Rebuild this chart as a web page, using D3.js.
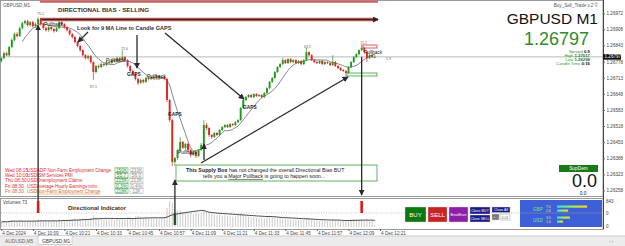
<!DOCTYPE html>
<html>
<head>
<meta charset="utf-8">
<script src="https://cdn.jsdelivr.net/npm/d3@7"></script>
<style>
  body { margin: 0; background: #fff; }
  svg { display: block; font-family: "Liberation Sans", Arial, sans-serif; }
</style>
</head>
<body>
<div id="chart"></div>
<script>
// ---- data ----
// one M1 candle per minute from 09:57, rows are [open, high, low, close]
const firstBar = "09:57";
const candles = [
  [1.26780,1.26796,1.26774,1.26792],[1.26792,1.26818,1.26788,1.26812],[1.26812,1.26818,1.26800,1.26804],
  [1.26804,1.26841,1.26798,1.26837],[1.26837,1.26871,1.26833,1.26865],[1.26865,1.26895,1.26859,1.26889],
  [1.26889,1.26897,1.26875,1.26881],[1.26881,1.26919,1.26877,1.26913],[1.26913,1.26939,1.26907,1.26933],
  [1.26933,1.26947,1.26927,1.26941],[1.26941,1.26947,1.26919,1.26925],[1.26925,1.26941,1.26919,1.26937],
  [1.26937,1.26943,1.26915,1.26921],[1.26921,1.26935,1.26915,1.26929],[1.26929,1.26957,1.26925,1.26949],
  [1.26949,1.26953,1.26923,1.26929],[1.26929,1.26935,1.26907,1.26913],[1.26913,1.26919,1.26899,1.26905],
  [1.26905,1.26923,1.26899,1.26917],[1.26917,1.26921,1.26903,1.26909],[1.26909,1.26913,1.26895,1.26901],
  [1.26901,1.26919,1.26897,1.26913],[1.26913,1.26945,1.26909,1.26937],[1.26937,1.26941,1.26923,1.26929],
  [1.26929,1.26933,1.26911,1.26917],[1.26917,1.26921,1.26899,1.26905],[1.26905,1.26909,1.26883,1.26889],
  [1.26889,1.26893,1.26871,1.26877],[1.26877,1.26881,1.26851,1.26857],[1.26857,1.26861,1.26835,1.26841],
  [1.26841,1.26845,1.26818,1.26824],[1.26824,1.26828,1.26798,1.26804],[1.26804,1.26808,1.26786,1.26792],
  [1.26792,1.26806,1.26786,1.26800],[1.26800,1.26804,1.26770,1.26776],[1.26776,1.26780,1.26704,1.26736],
  [1.26736,1.26764,1.26730,1.26760],[1.26760,1.26766,1.26750,1.26756],[1.26756,1.26774,1.26752,1.26768],
  [1.26768,1.26772,1.26758,1.26764],[1.26764,1.26782,1.26760,1.26776],[1.26776,1.26780,1.26766,1.26772],
  [1.26772,1.26790,1.26768,1.26784],[1.26784,1.26788,1.26774,1.26780],[1.26780,1.26798,1.26776,1.26792],
  [1.26792,1.26796,1.26778,1.26784],[1.26784,1.26824,1.26780,1.26796],[1.26796,1.26800,1.26778,1.26784],
  [1.26784,1.26788,1.26754,1.26760],[1.26760,1.26764,1.26734,1.26740],[1.26740,1.26746,1.26722,1.26728],
  [1.26728,1.26732,1.26702,1.26708],[1.26708,1.26712,1.26683,1.26692],[1.26692,1.26710,1.26688,1.26704],
  [1.26704,1.26708,1.26690,1.26696],[1.26696,1.26718,1.26692,1.26712],[1.26712,1.26716,1.26702,1.26708],
  [1.26708,1.26722,1.26704,1.26716],[1.26716,1.26720,1.26706,1.26712],[1.26712,1.26726,1.26708,1.26720],
  [1.26720,1.26724,1.26706,1.26712],[1.26712,1.26722,1.26708,1.26716],[1.26716,1.26720,1.26702,1.26708],
  [1.26708,1.26712,1.26615,1.26623],[1.26623,1.26627,1.26534,1.26542],[1.26542,1.26546,1.26357,1.26373],
  [1.26373,1.26393,1.26357,1.26389],[1.26389,1.26426,1.26381,1.26421],[1.26421,1.26474,1.26413,1.26454],
  [1.26454,1.26458,1.26426,1.26430],[1.26430,1.26450,1.26421,1.26446],[1.26446,1.26450,1.26413,1.26421],
  [1.26421,1.26426,1.26393,1.26401],[1.26401,1.26417,1.26397,1.26413],[1.26413,1.26417,1.26389,1.26397],
  [1.26397,1.26426,1.26393,1.26421],[1.26421,1.26450,1.26417,1.26442],[1.26442,1.26542,1.26438,1.26522],
  [1.26522,1.26530,1.26502,1.26510],[1.26510,1.26514,1.26474,1.26482],[1.26482,1.26486,1.26466,1.26474],
  [1.26474,1.26494,1.26470,1.26490],[1.26490,1.26494,1.26478,1.26482],[1.26482,1.26506,1.26478,1.26502],
  [1.26502,1.26518,1.26498,1.26514],[1.26514,1.26526,1.26510,1.26522],[1.26522,1.26526,1.26510,1.26514],
  [1.26514,1.26530,1.26510,1.26526],[1.26526,1.26530,1.26518,1.26522],[1.26522,1.26538,1.26518,1.26534],
  [1.26534,1.26546,1.26530,1.26542],[1.26542,1.26595,1.26538,1.26591],[1.26591,1.26627,1.26587,1.26623],
  [1.26623,1.26639,1.26619,1.26635],[1.26635,1.26647,1.26631,1.26643],[1.26643,1.26647,1.26631,1.26635],
  [1.26635,1.26651,1.26631,1.26647],[1.26647,1.26651,1.26635,1.26639],[1.26639,1.26647,1.26635,1.26643],
  [1.26643,1.26647,1.26631,1.26635],[1.26635,1.26655,1.26631,1.26651],[1.26651,1.26675,1.26647,1.26671],
  [1.26671,1.26700,1.26667,1.26696],[1.26696,1.26716,1.26692,1.26712],[1.26712,1.26740,1.26708,1.26736],
  [1.26736,1.26760,1.26732,1.26756],[1.26756,1.26772,1.26752,1.26768],[1.26768,1.26792,1.26764,1.26784],
  [1.26784,1.26788,1.26768,1.26772],[1.26772,1.26792,1.26768,1.26788],[1.26788,1.26792,1.26772,1.26776],
  [1.26776,1.26788,1.26772,1.26784],[1.26784,1.26788,1.26768,1.26772],[1.26772,1.26784,1.26768,1.26780],
  [1.26780,1.26784,1.26764,1.26768],[1.26768,1.26788,1.26764,1.26784],[1.26784,1.26833,1.26780,1.26816],
  [1.26816,1.26820,1.26800,1.26804],[1.26804,1.26808,1.26780,1.26784],[1.26784,1.26788,1.26772,1.26776],
  [1.26776,1.26780,1.26768,1.26772],[1.26772,1.26784,1.26768,1.26780],[1.26780,1.26784,1.26764,1.26768],
  [1.26768,1.26780,1.26764,1.26776],[1.26776,1.26780,1.26768,1.26772],[1.26772,1.26776,1.26760,1.26764],
  [1.26764,1.26804,1.26760,1.26776],[1.26776,1.26780,1.26756,1.26760],[1.26760,1.26764,1.26748,1.26752],
  [1.26752,1.26756,1.26740,1.26744],[1.26744,1.26748,1.26736,1.26740],[1.26740,1.26744,1.26720,1.26732],
  [1.26732,1.26760,1.26728,1.26756],[1.26756,1.26780,1.26752,1.26776],[1.26776,1.26800,1.26772,1.26796],
  [1.26796,1.26812,1.26792,1.26808],[1.26808,1.26828,1.26804,1.26824],[1.26824,1.26849,1.26820,1.26833],
  [1.26833,1.26837,1.26812,1.26816],[1.26816,1.26820,1.26776,1.26792],[1.26792,1.26808,1.26788,1.26804],
  [1.26804,1.26808,1.26792,1.26796],[1.26796,1.26804,1.26792,1.26797]
];

const volumes = [
  160,190,150,210,230,200,170,220,190,160,200,180,
  210,170,240,230,200,180,220,190,210,200,250,220,
  230,210,240,260,280,250,270,290,260,240,300,380,
  320,260,280,250,270,240,260,230,270,250,300,260,
  310,330,300,340,360,310,280,300,270,290,260,280,270,300,320,
  620,843,800,560,
  520,540,480,460,440,470,420,450,430,460,560,480,440,420,
  400,380,410,360,390,350,370,340,360,380,450,420,360,330,310,320,300,290,310,280,
  320,340,330,310,300,290,280,260,250,240,230,250,220,230,240,300,260,240,220,210,
  200,220,210,200,190,230,210,200,190,200,210,240,250,260,240,230,250,220,230,200,190,73
];

// directional indicator: +1 = sell signal (red), -1 = buy signal (green)
const signalBars = [14, 66, 137];
const signalDirs = [1, -1, 1];

const priceTicks = [1.26972, 1.26908, 1.26843, 1.26778, 1.26713, 1.26648,
                    1.26583, 1.26518, 1.26453, 1.26388, 1.26323, 1.26258];
const timeTicks = ["09:57", "10:09", "10:21", "10:33", "10:45", "10:57", "11:09",
                   "11:21", "11:33", "11:45", "11:57", "12:09", "12:21"];
const bidPrice = 1.26797;
const volMax = 843;

const newsTimes  = ["Wed 08:15", "Wed 10:00", "Thu 08:30", "Fri 08:30", "Fri 08:30"];
const newsEvents = ["ADP Non-Farm Employment Change", "ISM Services PMI", "Unemployment Claims",
                    "Average Hourly Earnings m/m", "Non-Farm Employment Change"];
const newsForecast = ["150K", "55.7", "215K", "0.3%", "218K"];
const newsPrevious = ["233K", "56.0", "213K", "0.4%", "12K"];

const infoLabels = ["Spread", "High", "Low", "Candle Time"];
const infoValues = ["0.9", "1.27017", "1.26298", "0:16"];

// ---- layout ----
const W = 625, H = 246;
const plotRight = 603, mainBottom = 196, subTop = 198, subBottom = 229;
const upColor = "#1f9a1f", downColor = "#e02525";

const svg = d3.select("#chart").append("svg").attr("width", W).attr("height", H);

const defs = svg.append("defs");
defs.append("marker").attr("id", "arr")
    .attr("viewBox", "0 0 8 8").attr("refX", 7).attr("refY", 4)
    .attr("markerWidth", 6).attr("markerHeight", 6).attr("markerUnits", "userSpaceOnUse")
    .attr("orient", "auto")
  .append("path").attr("d", "M0,0L8,4L0,8z").attr("fill", "#2a2a2a");
const grad = defs.append("linearGradient").attr("id", "lvl");
grad.append("stop").attr("offset", "0%").attr("stop-color", "#30e0e0");
grad.append("stop").attr("offset", "60%").attr("stop-color", "#b0f040");
grad.append("stop").attr("offset", "100%").attr("stop-color", "#ffd020");

// scales
const toMin = s => { const [h, m] = s.split(":").map(Number); return h * 60 + m; };
const x = d3.scaleLinear().domain([0, candles.length - 1]).range([1.3, 374.8]);
const y = d3.scaleLinear().domain([priceTicks[priceTicks.length - 1], priceTicks[0]]).range([190.5, 13.5]);
const vy = d3.scaleLinear().domain([0, volMax]).range([227, 201]);
const dy = d3.scaleLinear().domain([-1, 1]).range([225, 201]);

// frames
svg.append("rect").attr("x", 0.5).attr("y", 0.5).attr("width", plotRight - 0.5).attr("height", mainBottom)
   .attr("fill", "#fff").attr("stroke", "#9a9a9a");
svg.append("rect").attr("x", 0.5).attr("y", subTop + 0.5).attr("width", plotRight - 0.5).attr("height", subBottom - subTop)
   .attr("fill", "#fff").attr("stroke", "#9a9a9a");
svg.append("text").attr("x", 3).attr("y", 7).attr("font-size", 4.6).attr("fill", "#555").text("GBPUSD,M1");

// bid line
svg.append("line").attr("x1", 1).attr("x2", plotRight).attr("y1", y(bidPrice)).attr("y2", y(bidPrice))
   .attr("stroke", "#a8a8a8").attr("stroke-width", 0.8);

// supply zone edges at the top
svg.append("line").attr("x1", 40).attr("x2", 378).attr("y1", 1.8).attr("y2", 1.8)
   .attr("stroke", "#d85a5a").attr("stroke-width", 2);
svg.append("line").attr("x1", 40).attr("x2", 376).attr("y1", 19.5).attr("y2", 19.5)
   .attr("stroke", "#e6a4a4").attr("stroke-width", 4);
svg.append("line").attr("x1", 40).attr("x2", 378).attr("y1", 19.5).attr("y2", 19.5)
   .attr("stroke", "#5c1414").attr("stroke-width", 2).attr("marker-end", "url(#arr)");

// 9 period moving average
const closes = candles.map(d => d[3]);
const ma = closes.map((c, i) => i < 8 ? null : d3.mean(closes.slice(i - 8, i + 1)));
svg.append("path")
   .datum(ma.map((v, i) => [i, v]).filter(d => d[1] !== null))
   .attr("fill", "none").attr("stroke", "#6a6a6a").attr("stroke-width", 0.8)
   .attr("d", d3.line().x(d => x(d[0])).y(d => y(d[1])));

// candles
const cg = svg.append("g");
cg.selectAll("line").data(candles).join("line")
  .attr("x1", (d, i) => x(i)).attr("x2", (d, i) => x(i))
  .attr("y1", d => y(d[1])).attr("y2", d => y(d[2]))
  .attr("stroke", d => d[3] >= d[0] ? upColor : downColor).attr("stroke-width", 0.7);
cg.selectAll("rect").data(candles).join("rect")
  .attr("x", (d, i) => x(i) - 0.95).attr("width", 1.9)
  .attr("y", d => y(Math.max(d[0], d[3])))
  .attr("height", d => Math.max(0.8, Math.abs(y(d[0]) - y(d[3]))))
  .attr("fill", d => d[3] >= d[0] ? upColor : downColor);

// annotations on the chart
const note = (tx, ty, str, size, weight, fill) =>
  svg.append("text").attr("x", tx).attr("y", ty).attr("font-size", size)
     .attr("font-weight", weight || "normal").attr("fill", fill || "#222").text(str);
note(58, 12, "DIRECTIONAL BIAS - SELLING", 6.2, "bold", "#333");
note(77, 30, "Look for 9 MA Line to Candle GAPS", 5.6, "bold", "#333");
note(44, 26, "Pullback", 5, "normal", "#222");
note(106, 62, "Pullback", 5, "normal", "#222");
note(127, 76, "GAPS", 4.8, "bold", "#222");
note(147, 78, "Pullback", 5, "normal", "#222");
note(168, 116, "GAPS", 4.8, "bold", "#222");
note(178, 154, "Pullback", 5, "normal", "#222");
note(243, 109, "GAPS", 4.8, "bold", "#222");
note(364, 54, "Pullback", 4.8, "normal", "#222");
note(37, 15, "75.1", 3.6, "normal", "#666");
note(90, 88, "87.1", 3.6, "normal", "#666");
note(121, 50, "72.6", 3.6, "normal", "#666");
note(304, 48, "63.9", 3.6, "normal", "#666");
note(360, 44, "71.2", 3.6, "normal", "#666");
note(386, 60, "5.9", 3.6, "normal", "#666");

svg.append("rect").attr("x", 363).attr("y", 45).attr("width", 14).attr("height", 3)
   .attr("fill", "none").attr("stroke", "#e03030").attr("stroke-width", 0.8);
svg.append("rect").attr("x", 347).attr("y", 73).attr("width", 30).attr("height", 3)
   .attr("fill", "none").attr("stroke", "#3aa03a").attr("stroke-width", 0.8);

const arrow = (x1, y1, x2, y2) =>
  svg.append("line").attr("x1", x1).attr("y1", y1).attr("x2", x2).attr("y2", y2)
     .attr("stroke", "#2a2a2a").attr("stroke-width", 1.3).attr("marker-end", "url(#arr)");
arrow(88, 32, 78, 42);
arrow(137, 35, 137, 68);
arrow(165, 33, 244, 99);
arrow(201, 163, 348, 77);
arrow(204, 160, 204, 144);

// supply box note
svg.append("rect").attr("x", 176).attr("y", 165).attr("width", 201).attr("height", 16)
   .attr("fill", "#fff").attr("stroke", "#3aa03a").attr("stroke-width", 0.8);
const sb1 = svg.append("text").attr("x", 186).attr("y", 171.5).attr("font-size", 5.3).attr("fill", "#222");
sb1.append("tspan").attr("font-weight", "bold").text("This Supply Box");
sb1.append("tspan").text(" has not changed the overall Directional Bias BUT");
const sb2 = svg.append("text").attr("x", 203).attr("y", 178).attr("font-size", 5.3).attr("fill", "#222");
sb2.append("tspan").text("tells you a ");
sb2.append("tspan").attr("text-decoration", "underline").text("Major Pullback");
sb2.append("tspan").text(" is going to happen soon...");

// news table
const news = svg.append("g").attr("font-size", 4.8);
newsTimes.forEach((t, i) => {
  const ry = 172 + i * 5.2;
  const col = i === 4 ? "#d86a20" : "#e02a2a";
  news.append("text").attr("x", 5).attr("y", ry).attr("fill", col).text(t);
  news.append("text").attr("x", 27).attr("y", ry).attr("fill", col).text("USD");
  news.append("text").attr("x", 37).attr("y", ry).attr("fill", col).attr("font-size", 4.5)
      .attr("text-decoration", i === 4 ? "underline" : null).text(newsEvents[i]);
  news.append("rect").attr("x", 115).attr("y", ry - 4.2).attr("width", 13).attr("height", 4.8)
      .attr("fill", "#fff").attr("stroke", "#3a9a3a").attr("stroke-width", 0.5);
  news.append("text").attr("x", 121.5).attr("y", ry).attr("text-anchor", "middle").attr("fill", "#2a8a2a").text(newsForecast[i]);
  news.append("rect").attr("x", 130).attr("y", ry - 4.2).attr("width", 13).attr("height", 4.8)
      .attr("fill", "#fff").attr("stroke", "#aaa").attr("stroke-width", 0.5);
  news.append("text").attr("x", 136.5).attr("y", ry).attr("text-anchor", "middle").attr("fill", "#888").text(newsPrevious[i]);
});

// right side info block
svg.append("text").attr("x", 598).attr("y", 7).attr("text-anchor", "end").attr("font-size", 4.6)
   .attr("fill", "#555").text("Buy_Sell_Trade v.2 \u00a9");
svg.append("text").attr("x", 598).attr("y", 24).attr("text-anchor", "end").attr("font-size", 15.5)
   .attr("fill", "#111").text("GBPUSD M1");
svg.append("text").attr("x", 589).attr("y", 44.5).attr("text-anchor", "end").attr("font-size", 18)
   .attr("fill", "#2e8b2e").text(d3.format(".5f")(bidPrice));
infoLabels.forEach((lab, i) => {
  const t = svg.append("text").attr("x", 590).attr("y", 52.5 + i * 4.3).attr("text-anchor", "end").attr("font-size", 4.3);
  t.append("tspan").attr("fill", "#2e9a2e").text(lab + " ");
  t.append("tspan").attr("font-weight", "bold").attr("fill", i === 1 || i === 2 ? "#1d6e1d" : "#111").text(infoValues[i]);
});
svg.append("rect").attr("x", 559).attr("y", 165).attr("width", 39).attr("height", 7).attr("fill", "#177a17");
svg.append("text").attr("x", 578.5).attr("y", 170.3).attr("text-anchor", "middle").attr("font-size", 4.8)
   .attr("fill", "#fff").text("SupDem");
svg.append("text").attr("x", 597).attr("y", 187).attr("text-anchor", "end").attr("font-size", 18)
   .attr("fill", "#111").text("0.0");
svg.append("text").attr("x", 583).attr("y", 194.5).attr("text-anchor", "middle").attr("font-size", 4.8)
   .attr("fill", "#111").text("0.0");

// price axis
const pAxis = svg.append("g").attr("transform", `translate(${plotRight},0)`)
  .call(d3.axisRight(y).tickValues(priceTicks).tickSize(2).tickPadding(1.5).tickFormat(d3.format(".5f")));
pAxis.select(".domain").attr("stroke", "#444").attr("d", `M0.5,0V${subBottom}`);
pAxis.selectAll(".tick text").attr("font-size", 4.6).attr("fill", "#444").attr("font-family", "inherit");
pAxis.selectAll(".tick line").attr("stroke", "#666");
svg.append("rect").attr("x", plotRight).attr("y", y(bidPrice) - 2.8).attr("width", 18).attr("height", 5.6).attr("fill", "#111");
svg.append("text").attr("x", plotRight + 1.5).attr("y", y(bidPrice) + 1.6).attr("font-size", 4.6)
   .attr("fill", "#fff").text(d3.format(".5f")(bidPrice));

// ---- sub window: volumes + directional indicator ----
svg.append("line").attr("x1", 1).attr("x2", plotRight).attr("y1", dy(0)).attr("y2", dy(0))
   .attr("stroke", "#999").attr("stroke-width", 0.6).attr("stroke-dasharray", "1,1.5");
svg.append("g").selectAll("line").data(volumes).join("line")
   .attr("x1", (d, i) => x(i)).attr("x2", (d, i) => x(i))
   .attr("y1", vy(0)).attr("y2", d => vy(d))
   .attr("stroke", "#a9a9a9").attr("stroke-width", 0.6);
const vma = volumes.map((v, i) => d3.mean(volumes.slice(Math.max(0, i - 13), i + 1)));
svg.append("path").datum(vma)
   .attr("fill", "none").attr("stroke", "#222").attr("stroke-width", 0.8)
   .attr("d", d3.line().x((d, i) => x(i)).y(d => vy(d)));
svg.append("g").selectAll("rect").data(signalBars).join("rect")
   .attr("x", d => x(d) - 1.3).attr("width", 2.6)
   .attr("y", (d, i) => Math.min(dy(0), dy(signalDirs[i])))
   .attr("height", (d, i) => Math.abs(dy(signalDirs[i]) - dy(0)))
   .attr("fill", (d, i) => signalDirs[i] > 0 ? "#e01818" : "#189a18");
// connectors from the signal bars to the price
svg.append("line").attr("x1", x(signalBars[0])).attr("x2", x(signalBars[0]))
   .attr("y1", dy(signalDirs[0])).attr("y2", y(candles[signalBars[0]][1]) + 8)
   .attr("stroke", "#2a2a2a").attr("stroke-width", 1.3).attr("marker-end", "url(#arr)");
svg.append("line").attr("x1", x(signalBars[1])).attr("x2", x(signalBars[1]))
   .attr("y1", dy(signalDirs[1])).attr("y2", y(candles[signalBars[1]][2]) + 14)
   .attr("stroke", "#2a2a2a").attr("stroke-width", 1.3).attr("marker-end", "url(#arr)");
svg.append("line").attr("x1", x(signalBars[2])).attr("x2", x(signalBars[2]))
   .attr("y1", y(bidPrice)).attr("y2", mainBottom - 1)
   .attr("stroke", "#2a2a2a").attr("stroke-width", 1.3).attr("marker-end", "url(#arr)");

svg.append("text").attr("x", 3).attr("y", 203.5).attr("font-size", 4.6).attr("fill", "#444")
   .text("Volumes " + volumes[volumes.length - 1]);
svg.append("text").attr("x", 68).attr("y", 209.5).attr("font-size", 6).attr("font-weight", "bold")
   .attr("fill", "#333").text("Directional Indicator");

const subLabels = svg.append("g").attr("font-size", 4.6).attr("fill", "#444");
subLabels.append("text").attr("x", 606).attr("y", vy(volMax) + 1.6).text(volMax);
subLabels.append("text").attr("x", 606).attr("y", dy(0) + 1.6).text("0");
subLabels.append("text").attr("x", 606).attr("y", vy(0) + 1.2).text("0");

// trade panel buttons
const btn = (bx, by, bw, bh, fill, label, size) => {
  svg.append("rect").attr("x", bx).attr("y", by).attr("width", bw).attr("height", bh)
     .attr("fill", fill).attr("stroke", "#ddd").attr("stroke-width", 0.4);
  svg.append("text").attr("x", bx + bw / 2).attr("y", by + bh / 2 + size * 0.36)
     .attr("text-anchor", "middle").attr("font-size", size).attr("fill", "#fff").text(label);
};
btn(405, 207, 21, 15, "#0d780d", "BUY", 6);
btn(428, 207, 19, 15, "#c82424", "SELL", 6);
btn(449, 207, 19, 15, "#8e1fa8", "BreakEven", 3.3);
btn(470, 207, 20, 7, "#1b1b86", "Close BUY", 3.6);
btn(470, 215, 20, 7, "#1b1b86", "Close SELL", 3.6);
btn(492, 207, 18, 5.5, "#1b1b86", "Close All", 3.6);
btn(492, 214, 7, 6, "#777", "+ -", 3.6);
svg.append("rect").attr("x", 500).attr("y", 214).attr("width", 10).attr("height", 6)
   .attr("fill", "#fff").attr("stroke", "#999").attr("stroke-width", 0.5);
svg.append("text").attr("x", 505).attr("y", 218.5).attr("text-anchor", "middle").attr("font-size", 3.6)
   .attr("fill", "#555").text("0.01");

// currency strength panel
svg.append("rect").attr("x", 520).attr("y", 200).attr("width", 82).attr("height", 27).attr("fill", "#3d5fd8");
svg.append("line").attr("x1", 520).attr("x2", 602).attr("y1", dy(0)).attr("y2", dy(0))
   .attr("stroke", "#8a8fa8").attr("stroke-width", 0.6);
const strengthCcy = ["GBP", "USD"];
const strengthVals = [[7.0, 2.6], [3.0, 1.4]];
strengthCcy.forEach((c, i) => {
  const by = 207 + i * 11;
  svg.append("text").attr("x", 533).attr("y", by + 3.5).attr("font-size", 4.6).attr("fill", "#7de07d").text(c);
  strengthVals[i].forEach((v, j) => {
    svg.append("text").attr("x", 546).attr("y", by + j * 4 + 0.8).attr("font-size", 3.4)
       .attr("fill", "#f0e060").text(v.toFixed(1));
    svg.append("rect").attr("x", 557).attr("y", by - 1.5 + j * 4).attr("width", v * 4.3).attr("height", 2.2)
       .attr("fill", "url(#lvl)");
  });
});

// time axis
const tAxis = svg.append("g").attr("transform", `translate(0,${subBottom})`)
  .call(d3.axisBottom(x)
    .tickValues(timeTicks.map(t => toMin(t) - toMin(firstBar)))
    .tickSize(2).tickPadding(1)
    .tickFormat((d, i) => i === 0 ? "4 Dec 2024" : "4 Dec " + timeTicks[i]));
tAxis.select(".domain").remove();
tAxis.selectAll(".tick line").attr("stroke", "#666");
tAxis.selectAll(".tick text").attr("text-anchor", "start").attr("dx", 0.5)
  .attr("font-size", 4.6).attr("fill", "#444").attr("font-family", "inherit");

// bottom tab bar
svg.append("rect").attr("x", 0).attr("y", 236).attr("width", W).attr("height", 10).attr("fill", "#ececec");
svg.append("line").attr("x1", 0).attr("x2", W).attr("y1", 236).attr("y2", 236).attr("stroke", "#ccc");
svg.append("text").attr("x", 5).attr("y", 243).attr("font-size", 4.8).attr("fill", "#666").text("AUDUSD,M5");
svg.append("rect").attr("x", 38).attr("y", 235.5).attr("width", 34).attr("height", 9)
   .attr("fill", "#fff").attr("stroke", "#aaa").attr("stroke-width", 0.5);
svg.append("text").attr("x", 42).attr("y", 243).attr("font-size", 4.8).attr("fill", "#333").text("GBPUSD,M1");
svg.append("text").attr("x", 609).attr("y", 242.5).attr("font-size", 4.6).attr("fill", "#999").text("\u2039  \u203a");
</script>
</body>
</html>
